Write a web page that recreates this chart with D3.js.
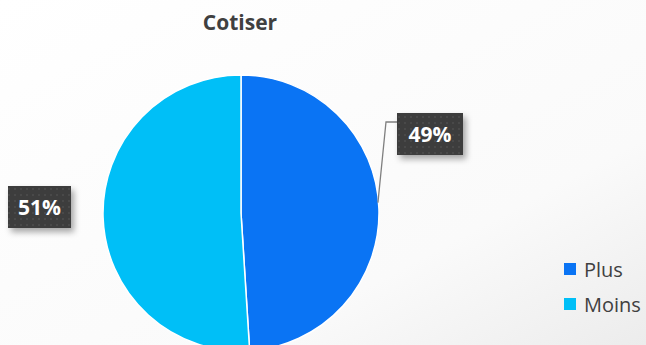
<!DOCTYPE html>
<html lang="fr">
<head>
    <meta charset="UTF-8">
    <title>Cotiser</title>
    <script src="https://d3js.org/d3.v7.min.js"></script>
    <style>
        body { margin: 0; background: #ffffff; }
        svg { display: block; font-family: "Open Sans", "Noto Sans", sans-serif; }
    </style>
</head>
<body>
    <svg width="646" height="345"></svg>
    <script>
        // données
        const categories = ["Plus", "Moins"];
        const values = [49, 51];
        const colors = ["#0a74f4", "#00bff7"];

        const svg = d3.select("svg");
        const defs = svg.append("defs");

        // fond légèrement dégradé
        const bg = defs.append("linearGradient").attr("id", "bg")
            .attr("x1", 0).attr("y1", 0).attr("x2", 1).attr("y2", 1);
        bg.append("stop").attr("offset", "0%").attr("stop-color", "#ffffff");
        bg.append("stop").attr("offset", "70%").attr("stop-color", "#fafafa");
        bg.append("stop").attr("offset", "100%").attr("stop-color", "#ececec");
        svg.append("rect").attr("width", 646).attr("height", 345).attr("fill", "url(#bg)");

        // motif pointillé pour les étiquettes
        const pat = defs.append("pattern").attr("id", "dots")
            .attr("width", 6).attr("height", 6).attr("patternUnits", "userSpaceOnUse");
        pat.append("rect").attr("width", 6).attr("height", 6).attr("fill", "#3d3d3d");
        pat.append("rect").attr("x", 2).attr("y", 2).attr("width", 2).attr("height", 2).attr("fill", "#4a4a4a");

        const shadow = defs.append("filter").attr("id", "shadow")
            .attr("x", "-20%").attr("y", "-20%").attr("width", "150%").attr("height", "160%");
        shadow.append("feDropShadow").attr("dx", 3).attr("dy", 4).attr("stdDeviation", 3)
            .attr("flood-color", "#000").attr("flood-opacity", 0.35);

        // titre
        svg.append("text")
            .attr("x", 240).attr("y", 30)
            .attr("text-anchor", "middle")
            .style("font-size", "21px").style("font-weight", "bold")
            .attr("fill", "#404040")
            .text("Cotiser");

        const cx = 241, cy = 213, r = 138;
        const pie = d3.pie().sort(null).value(d => d)(values);
        const arc = d3.arc().innerRadius(0).outerRadius(r);

        const g = svg.append("g").attr("transform", `translate(${cx},${cy})`);
        g.selectAll("path")
            .data(pie)
            .enter().append("path")
            .attr("d", arc)
            .attr("fill", (d, i) => colors[i])
            .attr("stroke", "#ffffff")
            .attr("stroke-width", 1.5);

        // étiquettes
        const labels = [
            { x: 397, y: 113, w: 66, h: 42 },
            { x: 8, y: 186, w: 63, h: 42 }
        ];

        // ligne de rappel pour "Plus"
        const mid0 = (pie[0].startAngle + pie[0].endAngle) / 2;
        const ex = cx + r * Math.sin(mid0), ey = cy - r * Math.cos(mid0);
        svg.append("polyline")
            .attr("points", `${ex - 1},${ey - 6} ${386},${122} ${397},${122}`)
            .attr("fill", "none").attr("stroke", "#7f7f7f").attr("stroke-width", 1.3);

        labels.forEach((b, i) => {
            svg.append("rect")
                .attr("x", b.x).attr("y", b.y).attr("width", b.w).attr("height", b.h)
                .attr("fill", "url(#dots)")
                .attr("filter", "url(#shadow)");
            svg.append("text")
                .attr("x", b.x + b.w / 2).attr("y", b.y + 29)
                .attr("text-anchor", "middle")
                .attr("fill", "#ffffff")
                .style("font-size", "21px").style("font-weight", "bold")
                .text(values[i] + "%");
        });

        // légende
        const legend = svg.append("g");
        categories.forEach((c, i) => {
            const y = 277 + i * 35;
            legend.append("rect")
                .attr("x", 564).attr("y", y - 14).attr("width", 12).attr("height", 12)
                .attr("fill", colors[i]);
            legend.append("text")
                .attr("x", 584).attr("y", y)
                .attr("fill", "#404040")
                .style("font-size", "20px")
                .text(c);
        });
    </script>
</body>
</html>
